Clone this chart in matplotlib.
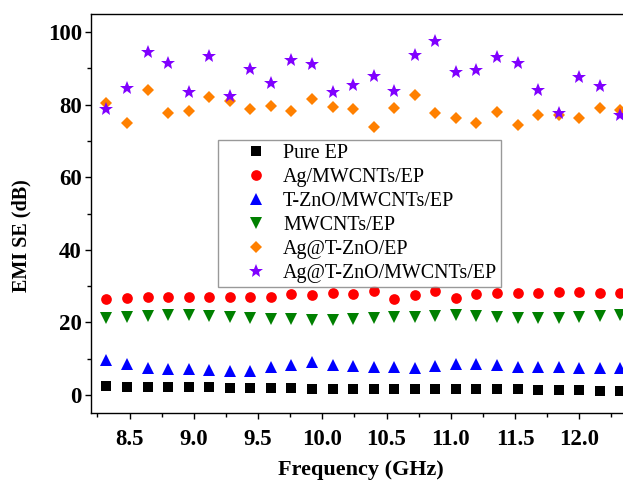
import matplotlib
matplotlib.use("Agg")
import matplotlib.pyplot as plt
from matplotlib.ticker import MultipleLocator

# ---- data (EMI SE, dB) ----
freq = [8.32, 8.48, 8.64, 8.80, 8.96, 9.12, 9.28, 9.44, 9.60, 9.76, 9.92, 10.08, 10.24,
        10.40, 10.56, 10.72, 10.88, 11.04, 11.20, 11.36, 11.52, 11.68, 11.84, 12.00, 12.16, 12.32]

pure_ep = [2.4, 2.2, 2.2, 2.2, 2.1, 2.1, 1.9, 1.9, 1.9, 1.9, 1.7, 1.7, 1.7,
           1.6, 1.6, 1.6, 1.6, 1.5, 1.5, 1.5, 1.5, 1.3, 1.3, 1.3, 1.2, 1.2]
ag_mwcnt = [26.5, 26.7, 27.1, 27.1, 27.1, 27.1, 27.1, 27.0, 27.1, 27.8, 27.4, 28.1, 27.8,
            28.5, 26.4, 27.6, 28.7, 26.7, 27.8, 28.1, 28.1, 28.2, 28.4, 28.4, 28.2, 28.1]
tzno_mwcnt = [9.5, 8.5, 7.4, 7.0, 7.0, 6.8, 6.6, 6.7, 7.7, 8.2, 9.0, 8.2, 7.9,
              7.7, 7.7, 7.3, 7.9, 8.5, 8.6, 8.1, 7.6, 7.6, 7.6, 7.4, 7.4, 7.4]
mwcnt = [21.2, 21.5, 21.7, 21.9, 21.9, 21.7, 21.5, 21.2, 21.0, 21.0, 20.7, 20.7, 21.0,
         21.2, 21.4, 21.5, 21.7, 21.9, 21.7, 21.5, 21.2, 21.2, 21.2, 21.4, 21.7, 21.9]
ag_tzno = [80.4, 74.9, 84.0, 77.6, 78.3, 82.2, 81.0, 78.7, 79.6, 78.3, 81.6, 79.4, 78.7,
           73.8, 79.0, 82.7, 77.8, 76.2, 75.0, 77.9, 74.4, 77.2, 77.2, 76.2, 79.0, 78.5]
ag_tzno_mwcnt = [78.7, 84.5, 94.4, 91.5, 83.5, 93.5, 82.4, 89.8, 86.0, 92.3, 91.3, 83.5, 85.4,
                 87.8, 83.8, 93.7, 97.5, 89.1, 89.5, 93.2, 91.4, 84.0, 77.8, 87.7, 85.2, 77.1]

labels = ["Pure EP", "Ag/MWCNTs/EP", "T-ZnO/MWCNTs/EP", "MWCNTs/EP",
          "Ag@T-ZnO/EP", "Ag@T-ZnO/MWCNTs/EP"]
xtick_vals = [8.5, 9.0, 9.5, 10.0, 10.5, 11.0, 11.5, 12.0]
xtick_text = ["8.5", "9.0", "9.5", "10.0", "10.5", "11.0", "11.5", "12.0"]
# ---------------------------------------------------

plt.rcParams['font.family'] = ['Liberation Serif', 'DejaVu Serif']

fig = plt.figure(figsize=(6.23, 4.88), dpi=100)
ax = fig.add_axes([91 / 623, 75 / 488, 539.7 / 623, 399 / 488])

series = [pure_ep, ag_mwcnt, tzno_mwcnt, mwcnt, ag_tzno, ag_tzno_mwcnt]
markers = ['s', 'o', '^', 'v', 'D', '*']
colors = ['#000000', '#FF0000', '#0000FF', '#008000', '#FF8000', '#8000FF']
sizes = [6.7, 7.7, 8.4, 8.4, 6.0, 10.0]

for ys, m, c, s, lab in zip(series, markers, colors, sizes, labels):
    ax.plot(freq, ys, linestyle='none', marker=m, color=c, markersize=s,
            markeredgewidth=0, label=lab)

ax.set_xlim(8.2, 12.4)
ax.set_ylim(-5, 105)
ax.set_xticks(xtick_vals)
ax.set_xticklabels(xtick_text)
ax.xaxis.set_minor_locator(MultipleLocator(0.25))
ax.yaxis.set_major_locator(MultipleLocator(20))
ax.yaxis.set_minor_locator(MultipleLocator(10))

ax.tick_params(which='both', direction='out', top=False, right=False, width=1.0)
ax.tick_params(which='major', length=4.5, labelsize=16.5)
ax.tick_params(axis='x', which='major', pad=7)
ax.tick_params(axis='y', which='major', pad=2)
ax.tick_params(which='minor', length=2.8)
for lbl in ax.get_xticklabels() + ax.get_yticklabels():
    lbl.set_fontweight('bold')
for sp in ax.spines.values():
    sp.set_linewidth(1.0)

ax.set_xlabel("Frequency (GHz)", fontsize=16, fontweight='bold', labelpad=7)
ax.set_ylabel("EMI SE (dB)", fontsize=14.5, fontweight='bold')
ax.yaxis.set_label_coords(-0.11, 0.444)

# legend box: marker column sits close to the text, like the original
leg = ax.legend(loc='upper left', bbox_to_anchor=(218 / 623, 1 - 140 / 488),
                bbox_transform=fig.transFigure, numpoints=1, fontsize=14.4,
                frameon=True, fancybox=False, edgecolor='#808080',
                borderpad=0.2, labelspacing=0.25, handletextpad=-0.35,
                handlelength=3.4, borderaxespad=0)
leg.get_frame().set_linewidth(1.0)

fig.savefig("out.png", dpi=100)
